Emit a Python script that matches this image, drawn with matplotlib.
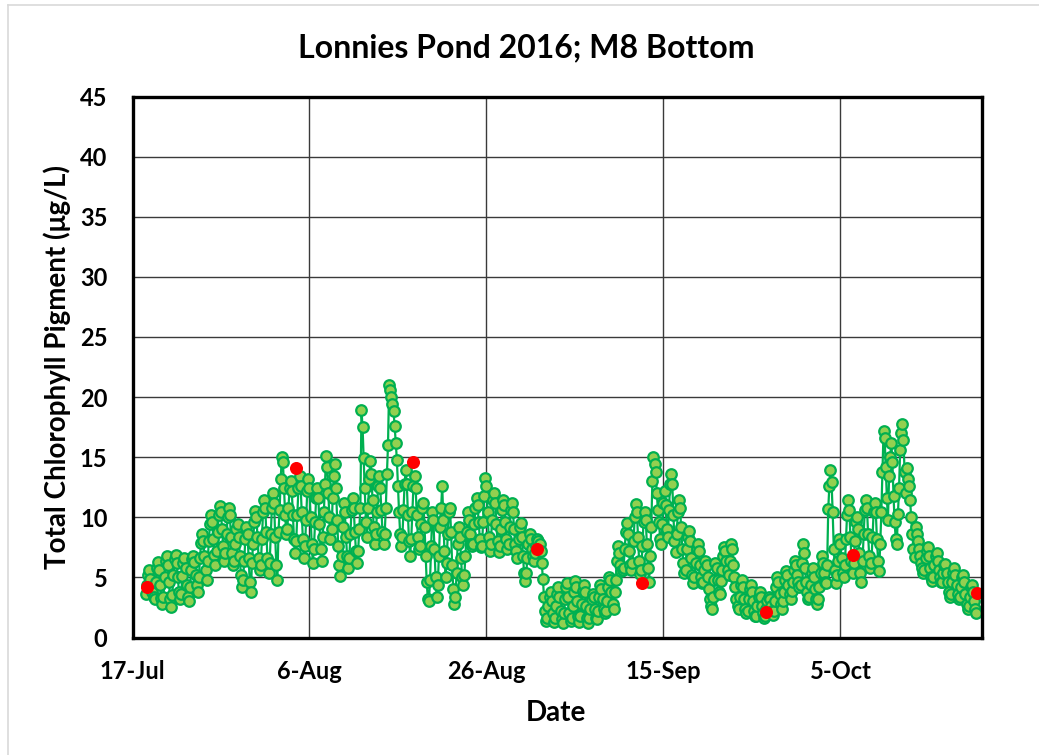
import matplotlib
matplotlib.use("Agg")
import matplotlib.pyplot as plt
import matplotlib.dates as mdates
import pandas as pd
from matplotlib.lines import Line2D

plt.rcParams['font.family'] = ['Lato', 'DejaVu Sans']

# Sonde record (3-hourly), first reading 2016-07-18 12:00; one row per day
sonde_start = "2016-07-18 12:00"
sonde_step = "3h"
sonde_chl = [
    3.6, 4.4, 5.2, 5.6, 4.9, 4.2, 3.8, 3.4,
    3.2, 4.6, 5.8, 6.3, 5.6, 4.4, 3.3, 2.8,
    3.4, 5.0, 6.4, 6.8, 6.0, 4.6, 3.2, 2.5,
    3.5, 5.2, 6.5, 6.9, 6.2, 5.0, 3.8, 3.2,
    3.6, 5.1, 6.2, 6.6, 5.8, 4.4, 3.4, 3.0,
    4.2, 5.6, 6.5, 6.8, 6.3, 5.2, 4.4, 3.8,
    5.0, 6.6, 7.9, 8.6, 8.0, 6.8, 5.6, 4.8,
    6.4, 8.0, 9.4, 10.2, 9.6, 8.2, 6.9, 6.0,
    7.2, 8.8, 10.2, 10.9, 10.4, 9.0, 7.6, 6.4,
    7.0, 8.6, 10.0, 10.8, 10.2, 8.4, 7.0, 6.0,
    6.4, 7.8, 9.0, 9.4, 8.4, 6.8, 5.2, 4.2,
    4.8, 6.4, 8.2, 9.2, 8.6, 6.6, 4.6, 3.8,
    6.2, 7.8, 9.6, 10.5, 10.0, 8.4, 6.6, 5.6,
    6.0, 8.2, 10.4, 11.4, 10.8, 8.8, 6.6, 5.4,
    6.2, 8.6, 10.8, 12.0, 11.2, 8.4, 6.0, 4.8,
    8.8, 10.6, 13.2, 15.0, 14.6, 12.4, 10.2, 8.6,
    9.0, 10.8, 12.4, 13.0, 12.2, 10.2, 8.2, 7.0,
    8.0, 10.2, 12.4, 13.4, 12.6, 10.4, 8.2, 6.6,
    7.6, 9.8, 12.2, 13.2, 12.4, 10.0, 7.8, 6.2,
    7.4, 9.6, 11.6, 12.4, 11.6, 9.4, 7.4, 6.4,
    8.4, 10.4, 12.8, 15.1, 14.2, 12.0, 10.0, 8.2,
    9.0, 11.6, 13.4, 14.4, 12.4, 9.8, 7.6, 6.0,
    5.1, 6.8, 9.2, 11.2, 10.4, 8.4, 6.8, 5.8,
    6.6, 8.6, 10.6, 11.6, 10.8, 8.8, 7.2, 6.2,
    7.2, 9.0, 10.8, 18.9, 17.5, 14.9, 12.4, 9.6,
    8.4, 10.8, 13.2, 14.7, 13.6, 11.4, 9.2, 7.8,
    8.6, 10.4, 12.6, 13.4, 12.4, 10.6, 8.8, 7.8,
    8.6, 10.8, 13.6, 16.0, 21.0, 20.6, 20.0, 19.4,
    18.8, 17.6, 16.2, 14.8, 12.6, 10.4, 8.6, 7.6,
    8.4, 10.6, 12.8, 13.9, 12.8, 10.2, 8.0, 6.8,
    8.2, 10.4, 12.6, 13.4, 12.4, 10.2, 8.4, 7.4,
    7.6, 9.4, 10.8, 11.2, 9.2, 6.8, 4.6, 3.2,
    3.0, 4.8, 7.6, 10.4, 9.8, 7.4, 5.0, 3.4,
    4.4, 6.8, 9.2, 10.8, 12.6, 9.8, 7.2, 5.0,
    6.2, 8.6, 10.4, 10.8, 8.8, 6.0, 4.0, 2.8,
    3.4, 5.4, 7.8, 9.2, 8.4, 6.6, 5.0, 4.4,
    5.2, 6.8, 8.8, 10.4, 9.8, 8.6, 7.8, 7.6,
    7.8, 9.4, 10.8, 11.6, 11.0, 9.6, 8.2, 7.5,
    7.6, 9.6, 11.8, 13.3, 12.6, 10.4, 8.4, 7.2,
    7.8, 9.8, 11.4, 12.0, 11.2, 9.4, 8.0, 7.1,
    7.6, 9.0, 10.6, 11.4, 11.0, 9.6, 8.2, 7.4,
    7.8, 9.2, 10.6, 11.2, 10.4, 9.0, 7.8, 7.2,
    6.6, 8.2, 9.2, 9.5, 8.4, 6.8, 5.4, 4.7,
    5.4, 6.6, 7.8, 8.6, 8.2, 7.4, 6.8, 6.4,
    7.0, 7.6, 8.2, 8.0, 7.8, 7.2, 6.2, 4.9,
    3.4, 2.2, 1.4, 1.6, 2.6, 3.4, 3.8, 3.0,
    2.0, 1.3, 1.6, 2.6, 3.6, 4.2, 3.4, 2.2,
    1.5, 1.2, 2.0, 3.2, 4.2, 4.5, 3.4, 2.0,
    1.4, 1.6, 2.6, 3.8, 4.7, 4.2, 3.0, 1.8,
    1.3, 1.8, 2.8, 3.9, 4.4, 3.8, 2.6, 1.6,
    1.2, 1.6, 2.4, 3.2, 3.6, 3.4, 2.4, 1.6,
    1.5, 2.2, 3.4, 4.4, 4.0, 3.2, 2.4, 2.0,
    2.2, 3.0, 4.2, 5.0, 4.8, 3.8, 2.8, 2.4,
    3.8, 4.8, 6.4, 7.6, 7.0, 6.0, 5.5, 5.6,
    5.8, 7.4, 8.8, 9.5, 8.6, 7.2, 6.0, 5.6,
    6.2, 8.0, 10.0, 11.1, 10.4, 8.4, 6.4, 5.3,
    5.6, 7.6, 9.6, 10.4, 9.8, 7.8, 5.8, 4.6,
    6.8, 9.2, 13.0, 15.0, 14.4, 13.8, 12.0, 10.6,
    9.6, 8.2, 7.8, 9.4, 11.2, 12.2, 11.0, 9.0,
    8.4, 10.6, 12.8, 13.6, 12.8, 10.2, 8.0, 7.1,
    8.6, 10.4, 11.4, 10.8, 9.2, 7.4, 6.2, 5.4,
    5.6, 7.4, 8.4, 8.9, 8.0, 6.6, 5.2, 4.5,
    5.0, 6.2, 7.4, 7.8, 7.2, 6.0, 5.0, 4.5,
    4.6, 5.6, 6.4, 6.0, 5.0, 4.0, 3.2, 2.6,
    2.4, 3.4, 4.8, 6.2, 5.8, 4.8, 3.8, 3.6,
    4.7, 5.6, 6.8, 7.5, 7.2, 6.4, 5.6, 5.2,
    6.4, 7.8, 7.4, 6.0, 5.0, 4.2, 3.2, 2.6,
    2.4, 3.4, 4.4, 4.8, 4.2, 3.2, 2.4, 2.0,
    2.2, 3.2, 4.0, 4.4, 3.8, 3.0, 2.2, 1.8,
    1.8, 2.6, 3.4, 3.8, 3.4, 2.6, 2.0, 1.6,
    1.8, 2.4, 3.0, 3.4, 3.2, 2.6, 2.2, 1.9,
    2.2, 3.0, 4.2, 5.0, 4.6, 3.6, 2.8, 2.4,
    3.0, 3.8, 4.8, 5.5, 5.2, 4.4, 3.6, 3.2,
    3.9, 4.6, 5.6, 6.4, 6.0, 5.2, 4.6, 4.2,
    4.4, 6.2, 7.8, 7.0, 5.8, 4.6, 3.8, 3.2,
    3.4, 4.4, 5.4, 5.8, 5.0, 4.0, 3.2, 2.8,
    3.2, 4.2, 5.4, 6.8, 6.2, 5.4, 4.6, 4.5,
    6.0, 10.7, 12.6, 13.9, 12.9, 10.4, 7.4, 5.6,
    4.5, 5.2, 6.4, 8.2, 7.8, 6.6, 5.4, 5.0,
    6.0, 8.2, 10.2, 11.4, 10.6, 8.4, 6.4, 5.4,
    6.2, 8.0, 9.6, 10.0, 9.0, 7.0, 5.4, 4.6,
    6.4, 8.6, 10.6, 11.4, 10.8, 8.6, 6.8, 5.8,
    6.2, 8.4, 10.4, 11.2, 10.4, 8.2, 6.4, 5.5,
    7.8, 10.4, 13.8, 17.2, 16.6, 14.2, 11.6, 9.8,
    13.4, 15.0, 16.2, 14.6, 11.8, 9.6, 8.2, 7.8,
    10.3, 12.4, 15.6, 17.0, 17.8, 16.4, 13.8, 12.0,
    14.1, 13.2, 12.6, 11.4, 10.0, 8.6, 7.4, 6.7,
    9.2, 8.6, 8.0, 7.4, 6.8, 6.2, 5.8, 5.4,
    5.6, 6.6, 7.2, 7.5, 6.8, 5.8, 5.0, 4.7,
    5.0, 6.0, 6.8, 7.0, 6.4, 5.6, 5.0, 4.6,
    4.6, 5.4, 6.0, 6.1, 5.4, 4.6, 3.8, 3.4,
    3.6, 4.6, 5.4, 5.8, 5.2, 4.4, 3.6, 3.2,
    3.4, 4.2, 5.0, 5.2, 4.6, 3.6, 2.8, 2.4,
    2.6, 3.4, 4.2, 4.4, 3.8, 3.0, 2.4, 2.0,
]

# Discrete (extracted) samples
grab_dates = ["2016-07-18 14:00", "2016-08-04 12:00", "2016-08-17 17:00",
              "2016-08-31 17:00", "2016-09-12 14:00", "2016-09-26 14:00",
              "2016-10-06 10:00", "2016-10-20 10:00"]
grab_chl = [4.2, 14.1, 14.6, 7.4, 4.5, 2.1, 6.9, 3.7]

title = "Lonnies Pond 2016; M8 Bottom"
x_label = "Date"
y_label = "Total Chlorophyll Pigment (\u03bcg/L)"
x_ticks = ["2016-07-17", "2016-08-06", "2016-08-26", "2016-09-15", "2016-10-05"]
x_range = ["2016-07-17", "2016-10-21"]
y_ticks = list(range(0, 46, 5))

W, H = 1039, 755
fig = plt.figure(figsize=(W / 100, H / 100), dpi=100)
ax = fig.add_axes([132.5 / W, 1 - 637.5 / H, (982 - 132.5) / W, (637.5 - 96.5) / H])

t = pd.date_range(sonde_start, periods=len(sonde_chl), freq=sonde_step)
ax.plot(t, sonde_chl, color="#00B050", lw=1.6, marker="o", ms=7.6,
        mfc="#92D050", mec="#00B050", mew=1.6, zorder=3)
ax.plot(pd.to_datetime(grab_dates), grab_chl, ls="none", marker="o", ms=9.4,
        mfc="#FF0000", mec="#FF0000", mew=0, zorder=4)

ax.set_xlim(pd.to_datetime(x_range[0]), pd.to_datetime(x_range[1]))
ax.set_ylim(0, 45)
ax.set_yticks(y_ticks)
ax.set_xticks(pd.to_datetime(x_ticks))
ax.xaxis.set_major_formatter(mdates.DateFormatter("%-d-%b"))
ax.grid(True, color="#3a3a3a", lw=1.0, zorder=0)
ax.set_axisbelow(True)
ax.tick_params(length=0, labelsize=17)
ax.tick_params(axis="y", pad=18)
ax.tick_params(axis="x", pad=16.5)
for lab in ax.get_xticklabels() + ax.get_yticklabels():
    lab.set_fontweight("bold")
for s in ax.spines.values():
    s.set_linewidth(2.4)
    s.set_color("black")
    s.set_zorder(5)

fig.text(526 / W, 1 - 48 / H, title, ha="center", va="center",
         fontsize=23, fontweight="bold")
fig.text(556 / W, 1 - 713 / H, x_label, ha="center", va="center",
         fontsize=20, fontweight="bold")
fig.text(57 / W, 1 - 367 / H, y_label, ha="center", va="center",
         rotation=90, fontsize=20, fontweight="bold")

# light chart-area border
fig.add_artist(Line2D([8 / W, 8 / W], [0, 1 - 5 / H], color="#d9d9d9", lw=1.2,
                      transform=fig.transFigure))
fig.add_artist(Line2D([8 / W, 1], [1 - 5 / H, 1 - 5 / H], color="#d9d9d9", lw=1.2,
                      transform=fig.transFigure))

fig.savefig("out.png", dpi=100)
